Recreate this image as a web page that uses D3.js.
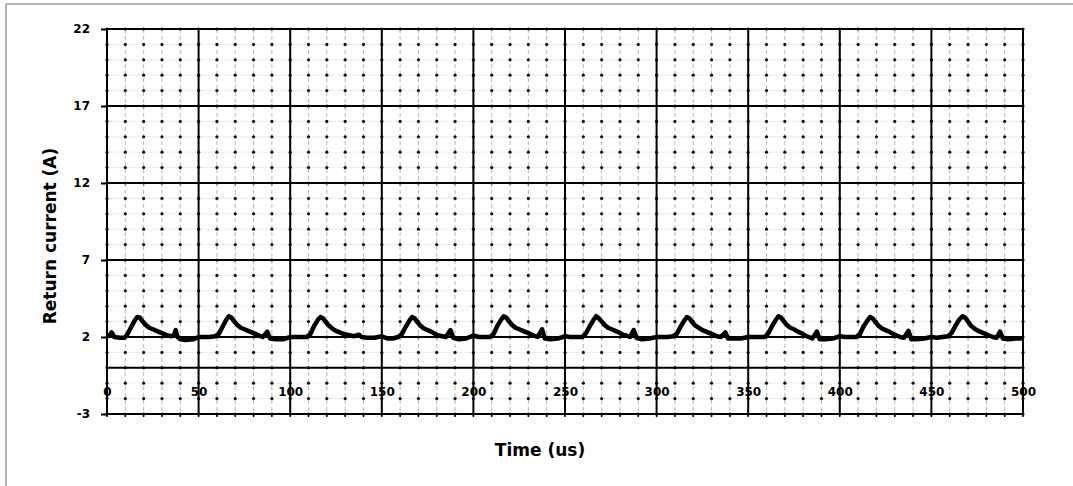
<!DOCTYPE html>
<html lang="en">
<head>
  <meta charset="UTF-8">
  <title>Return current</title>
  <script src="https://d3js.org/d3.v7.min.js"></script>
  <style>
    body { margin: 0; padding: 0; background: #fff; }
    svg { display: block; font-family: "DejaVu Sans", Verdana, sans-serif; }
    .tick text { font-weight: bold; font-size: 12px; fill: #000; }
  </style>
</head>
<body>
  <div id="chart"></div>
  <script>
    // Time axis (us) and current (A)
    const timeUs = [
      0, 1.5, 2.5, 4, 7, 9.5, 11, 13, 15, 16.5, 18, 19.5, 21, 23, 25, 27, 29, 31, 33, 35, 36.5, 37.5, 38.5, 40, 43, 47,
      50, 53, 56, 59, 61, 63, 65, 66.5, 68, 69.5, 71, 73, 75, 77, 79, 81, 83, 85, 87.5, 89, 92, 96,
      100, 103, 106, 109, 111, 113, 115, 116.5, 118, 119.5, 121, 123, 125, 127, 129, 131, 133, 135, 137.5, 139, 142, 146,
      150, 153, 156, 159, 161, 163, 165, 166.5, 168, 169.5, 171, 173, 175, 177, 179, 181, 183, 185, 187.5, 189, 192, 196,
      200, 203, 206, 209, 211, 213, 215, 216.5, 218, 219.5, 221, 223, 225, 227, 229, 231, 233, 235, 237.5, 239, 242, 246,
      250, 253, 256, 259.5, 261.5, 263.5, 265.5, 267, 268.5, 270, 271.5, 273.5, 275.5, 277.5, 279.5, 281.5, 283.5, 285.5, 287.5, 289, 292, 296,
      300, 303, 306, 309, 311, 313, 315, 316.5, 318, 319.5, 321, 323, 325, 327, 329, 331, 333, 335, 337.5, 339, 342, 346,
      350, 353, 356, 359, 361, 363, 365, 366.5, 368, 369.5, 371, 373, 375, 377, 379, 381, 383, 385, 387.5, 389, 392, 396,
      400, 403, 406, 409, 411, 413, 415, 416.5, 418, 419.5, 421, 423, 425, 427, 429, 431, 433, 435, 437.5, 439, 442, 446,
      450, 453, 456, 459, 461, 463, 465, 467, 468.5, 470, 471.5, 473.5, 475.5, 477.5, 479.5, 481.5, 483.5, 485.5, 487.5, 489, 492, 496,
      500
    ];
    const currentA = [
      2.05, 2.1, 2.3, 2.0, 1.95, 1.95, 2.15, 2.6, 3.05, 3.3, 3.25, 3.0, 2.8, 2.6, 2.5, 2.4, 2.3, 2.2, 2.1, 2.05, 2.1, 2.45, 2.0, 1.85, 1.8, 1.85,
      2.0, 2.0, 2.0, 2.05, 2.2, 2.65, 3.1, 3.35, 3.25, 3.0, 2.8, 2.6, 2.5, 2.4, 2.3, 2.2, 2.1, 2.0, 2.35, 1.9, 1.85, 1.85,
      2.0, 2.0, 2.0, 2.0, 2.2, 2.7, 3.1, 3.3, 3.2, 2.95, 2.75, 2.55, 2.4, 2.3, 2.2, 2.15, 2.1, 2.05, 2.15, 2.0, 1.95, 1.95,
      2.05, 1.9, 1.9, 2.0, 2.2, 2.65, 3.05, 3.3, 3.2, 2.95, 2.75, 2.55, 2.45, 2.35, 2.2, 2.1, 2.05, 2.0, 2.45, 1.95, 1.85, 1.9,
      2.1, 2.0, 2.0, 2.0, 2.2, 2.7, 3.1, 3.35, 3.25, 3.0, 2.8, 2.6, 2.5, 2.4, 2.3, 2.2, 2.1, 2.0, 2.5, 1.9, 1.85, 1.9,
      2.05, 2.0, 2.0, 2.0, 2.25, 2.7, 3.1, 3.35, 3.2, 3.0, 2.8, 2.6, 2.5, 2.4, 2.3, 2.15, 2.1, 2.0, 2.45, 1.95, 1.85, 1.9,
      2.0, 2.0, 2.0, 2.05, 2.2, 2.65, 3.05, 3.3, 3.2, 2.95, 2.75, 2.6, 2.45, 2.35, 2.25, 2.15, 2.05, 2.0, 2.3, 1.9, 1.9, 1.9,
      2.0, 2.0, 2.0, 2.0, 2.25, 2.7, 3.1, 3.35, 3.25, 3.0, 2.8, 2.6, 2.5, 2.35, 2.25, 2.1, 2.0, 1.9, 2.35, 1.85, 1.85, 1.9,
      2.05, 2.0, 2.0, 2.0, 2.2, 2.7, 3.05, 3.3, 3.2, 2.95, 2.75, 2.55, 2.45, 2.35, 2.2, 2.1, 2.0, 1.95, 2.4, 1.85, 1.85, 1.9,
      2.0, 1.95, 2.0, 2.05, 2.25, 2.7, 3.1, 3.35, 3.25, 3.0, 2.75, 2.55, 2.4, 2.3, 2.2, 2.1, 2.0, 1.95, 2.35, 1.9, 1.85, 1.9,
      1.9
    ];
    const xTickValues = [0, 50, 100, 150, 200, 250, 300, 350, 400, 450, 500];
    const yTickValues = [-3, 2, 7, 12, 17, 22];
    const xMinorValues = d3.range(0, 501, 10);
    const yMinorValues = d3.range(-3, 23, 1);

    const width = 1073, height = 486;
    const svg = d3.select("#chart").append("svg")
      .attr("width", width)
      .attr("height", height);

    // frame around the picture (only top and left show)
    svg.append("line").attr("x1", 6).attr("x2", width).attr("y1", 4).attr("y2", 4)
      .attr("stroke", "#b4b4b4").attr("stroke-width", 2);
    svg.append("line").attr("x1", 6).attr("x2", 6).attr("y1", 4).attr("y2", height)
      .attr("stroke", "#b4b4b4").attr("stroke-width", 2);

    const x = d3.scaleLinear().domain([0, 500]).range([107, 1023]);
    const y = d3.scaleLinear().domain([-3, 22]).range([414, 29]);

    const grid = svg.append("g");

    // minor horizontal gridlines
    grid.selectAll(".hminor")
      .data(yMinorValues)
      .enter().append("line")
      .attr("x1", x(0)).attr("x2", x(500))
      .attr("y1", d => y(d)).attr("y2", d => y(d))
      .attr("stroke", "#ececec").attr("stroke-width", 1);

    // minor vertical gridlines
    grid.selectAll(".vminor")
      .data(xMinorValues)
      .enter().append("line")
      .attr("x1", d => x(d)).attr("x2", d => x(d))
      .attr("y1", y(22)).attr("y2", y(-3))
      .attr("stroke", "#b8b8b8").attr("stroke-width", 1)
      .attr("stroke-dasharray", "4,3");

    // dots where the minor lines cross
    const crossings = [];
    xMinorValues.forEach(a => yMinorValues.forEach(b => crossings.push([a, b])));
    grid.selectAll(".dot")
      .data(crossings)
      .enter().append("circle")
      .attr("cx", d => x(d[0]))
      .attr("cy", d => y(d[1]))
      .attr("r", 1.6)
      .attr("fill", "#111");

    // major gridlines
    grid.selectAll(".hmajor")
      .data(yTickValues)
      .enter().append("line")
      .attr("x1", x(0)).attr("x2", x(500))
      .attr("y1", d => y(d)).attr("y2", d => y(d))
      .attr("stroke", "#000").attr("stroke-width", 2.2);

    grid.selectAll(".vmajor")
      .data(xTickValues)
      .enter().append("line")
      .attr("x1", d => x(d)).attr("x2", d => x(d))
      .attr("y1", y(22)).attr("y2", y(-3))
      .attr("stroke", "#000").attr("stroke-width", 2);

    // zero line
    grid.append("line")
      .attr("x1", x(0)).attr("x2", x(500))
      .attr("y1", y(0)).attr("y2", y(0))
      .attr("stroke", "#000").attr("stroke-width", 2);

    // small ticks under the bottom edge
    grid.selectAll(".btick")
      .data(xMinorValues)
      .enter().append("line")
      .attr("x1", d => x(d)).attr("x2", d => x(d))
      .attr("y1", y(-3)).attr("y2", y(-3) + 3)
      .attr("stroke", "#000").attr("stroke-width", 1.5);

    // y axis
    const yAxis = svg.append("g")
      .attr("transform", `translate(${x(0)},0)`)
      .call(d3.axisLeft(y).tickValues(yTickValues).tickSize(6).tickPadding(11).tickFormat(d => String(d)));
    yAxis.select(".domain").remove();
    yAxis.selectAll(".tick line").attr("stroke", "#000").attr("stroke-width", 2);
    yAxis.selectAll("text").attr("font-family", "DejaVu Sans");

    // x axis labels sit below the zero line
    const xAxis = svg.append("g")
      .attr("transform", `translate(0,${y(0)})`)
      .call(d3.axisBottom(x).tickValues(xTickValues).tickSize(0).tickPadding(20).tickFormat(d => String(d)));
    xAxis.select(".domain").remove();
    xAxis.selectAll("text").attr("font-family", "DejaVu Sans");

    // the trace
    const points = timeUs.map((t, i) => [t, currentA[i]]);
    const line = d3.line()
      .x(d => x(d[0]))
      .y(d => y(d[1]));

    svg.append("path")
      .datum(points)
      .attr("d", line)
      .attr("fill", "none")
      .attr("stroke", "#000")
      .attr("stroke-width", 4.5)
      .attr("stroke-linejoin", "round");

    // axis titles
    svg.append("text")
      .attr("x", 540)
      .attr("y", 450)
      .attr("text-anchor", "middle")
      .attr("dominant-baseline", "central")
      .attr("font-weight", "bold")
      .attr("font-size", 17)
      .text("Time (us)");

    svg.append("text")
      .attr("transform", "translate(50,236) rotate(-90)")
      .attr("text-anchor", "middle")
      .attr("dominant-baseline", "central")
      .attr("font-weight", "bold")
      .attr("font-size", 17)
      .text("Return current (A)");
  </script>
</body>
</html>
